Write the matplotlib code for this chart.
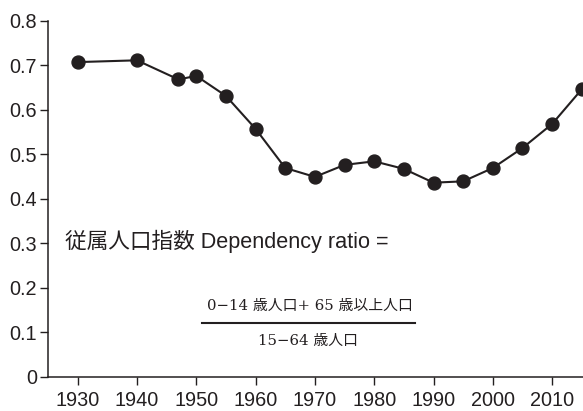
import matplotlib
matplotlib.use('Agg')
import matplotlib.pyplot as plt
from matplotlib.lines import Line2D

# データ
years = [1930, 1940, 1947, 1950, 1955, 1960, 1965, 1970, 1975, 1980,
         1985, 1990, 1995, 2000, 2005, 2010, 2015]
ratio = [0.707, 0.711, 0.668, 0.676, 0.631, 0.557, 0.469, 0.449, 0.476, 0.484,
         0.467, 0.436, 0.439, 0.469, 0.514, 0.568, 0.646]
xticks = [1930, 1940, 1950, 1960, 1970, 1980, 1990, 2000, 2010]
yticks = [0, 0.1, 0.2, 0.3, 0.4, 0.5, 0.6, 0.7, 0.8]
ytick_labels = ['0', '0.1', '0.2', '0.3', '0.4', '0.5', '0.6', '0.7', '0.8']

ink = '#231f20'
sans = ['Liberation Sans', 'Noto Sans CJK JP']
serif = ['DejaVu Serif', 'Noto Sans CJK JP']

fig = plt.figure(figsize=(5.83, 4.11), dpi=100)
ax = fig.add_axes([0.0823, 0.0835, 0.9177, 0.8661])

ax.plot(years, ratio, color=ink, lw=1.5, marker='o', ms=9.3,
        markerfacecolor=ink, markeredgecolor=ink)

ax.set_xlim(1925, 2015.2)
ax.set_ylim(0, 0.8)
ax.set_xticks(xticks)
ax.set_yticks(yticks)
ax.set_yticklabels(ytick_labels)

for s in ['top', 'right']:
    ax.spines[s].set_visible(False)
for s in ['left', 'bottom']:
    ax.spines[s].set_linewidth(1.1)
    ax.spines[s].set_color(ink)

ax.tick_params(axis='both', direction='out', length=6, width=1.0, color=ink,
               labelcolor=ink, labelsize=14.3)
ax.tick_params(axis='x', pad=4)
ax.tick_params(axis='y', pad=2)
for lab in ax.get_xticklabels() + ax.get_yticklabels():
    lab.set_family(sans)

# 式のテキスト
ax.text(0.032, 0.3615, '従属人口指数 Dependency ratio =', transform=ax.transAxes,
        family=sans, fontsize=15.6, color=ink, ha='left', va='baseline')
ax.text(0.490, 0.187, '0−14 歳人口+ 65 歳以上人口', transform=ax.transAxes,
        family=serif, fontsize=10.7, color=ink, ha='center', va='baseline')
ax.text(0.486, 0.089, '15−64 歳人口', transform=ax.transAxes,
        family=serif, fontsize=10.7, color=ink, ha='center', va='baseline')
ax.add_line(Line2D([0.288, 0.686], [0.150, 0.150], transform=ax.transAxes,
                   color=ink, lw=1.5, clip_on=False))

fig.savefig('out.png', dpi=100)
